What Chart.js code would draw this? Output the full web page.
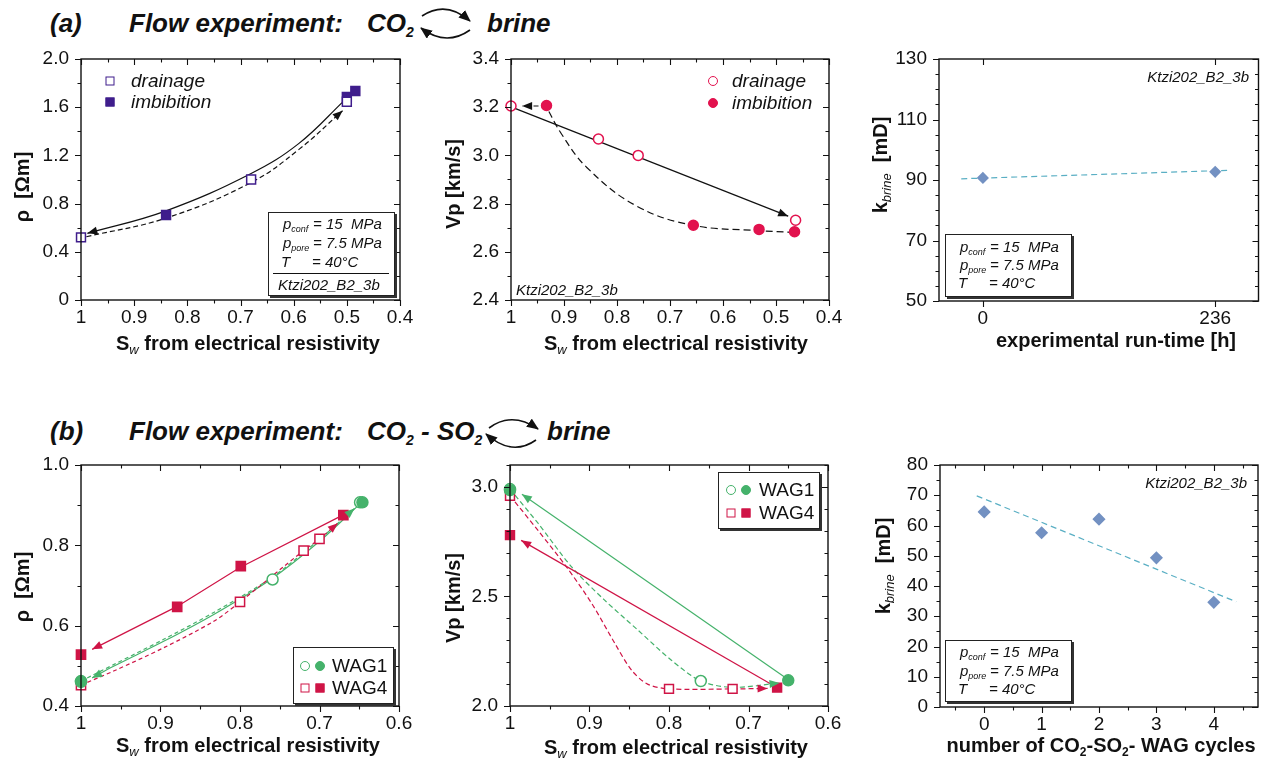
<!DOCTYPE html>
<html>
<head>
<meta charset="utf-8">
<title>Flow experiments</title>
<script src="https://cdn.jsdelivr.net/npm/chart.js@4.4.1/dist/chart.umd.min.js"></script>
<style>
  body { margin: 0; width: 1265px; height: 759px; overflow: hidden; background: #fff;
         font-family: "Liberation Sans", Arial, sans-serif; color: #111; position: relative; }
  canvas { position: absolute; }
  .t { position: absolute; white-space: nowrap; }
  .head { font-size: 26px; line-height: 30px; font-weight: bold; font-style: italic; }
  .head sub { font-size: 14px; vertical-align: -5px; line-height: 0; }
  .ax { font-size: 20px; line-height: 24px; font-weight: bold; transform: translate(-50%, -50%); }
  .ay { font-size: 20px; line-height: 24px; font-weight: bold; transform: translate(-50%, -50%) rotate(-90deg); }
  .ax sub, .ay sub { font-size: 13px; line-height: 0; vertical-align: -4px; font-style: italic; font-weight: normal; }
  .ax sub.n { font-style: normal; font-weight: bold; font-size: 12px; }
  .note { position: absolute; background: #fff; border: 1px solid #222; box-shadow: 2px 2px 0 #333; }
  .note .t { font-size: 15px; line-height: 18px; font-style: italic; }
  .note sub { font-size: 9px; vertical-align: -3px; line-height: 0; }
  .note hr { position: absolute; margin: 0; border: 0; border-top: 1.5px solid #111; }
  .id { font-size: 15px; line-height: 18px; font-style: italic; }
  .lg { font-size: 19px; line-height: 22px; font-style: italic; }
  .note .lg2 { font-size: 19px; line-height: 22px; font-style: normal; }
  .mk { position: absolute; transform: translate(-50%, -50%); box-sizing: border-box; border: 1.5px solid; }
  .sq { width: 9px; height: 9px; }
  .ci { width: 10px; height: 10px; border-radius: 50%; }
  svg { position: absolute; left: 0; top: 0; }
</style>
</head>
<body>

<canvas id="a1"></canvas>
<canvas id="a2"></canvas>
<canvas id="a3"></canvas>
<canvas id="b1"></canvas>
<canvas id="b2"></canvas>
<canvas id="b3"></canvas>

<!-- headers -->
<div class="t head" style="left:50px;top:8px">(a)</div>
<div class="t head" style="left:129px;top:8px">Flow experiment:</div>
<div class="t head" style="left:367px;top:8px">CO<sub>2</sub></div>
<div class="t head" style="left:487px;top:8px">brine</div>

<div class="t head" style="left:50px;top:416px">(b)</div>
<div class="t head" style="left:129px;top:416px">Flow experiment:</div>
<div class="t head" style="left:367px;top:416px">CO<sub>2</sub> - SO<sub>2</sub></div>
<div class="t head" style="left:547px;top:416px">brine</div>

<svg width="1265" height="759">
  <defs>
    <marker id="ah" markerUnits="userSpaceOnUse" markerWidth="12" markerHeight="10" refX="11" refY="5" orient="auto">
      <path d="M0,0 L12,5 L0,10 z" fill="#111"/>
    </marker>
  </defs>
  <g fill="none" stroke="#111" stroke-width="1.6">
    <path d="M422,16 Q446,0 470,21" marker-end="url(#ah)"/>
    <path d="M470,30 Q446,47 421,28" marker-end="url(#ah)"/>
    <path d="M489,428 Q512,411 538,429" marker-end="url(#ah)"/>
    <path d="M536,440 Q512,457 486,434" marker-end="url(#ah)"/>
  </g>
</svg>

<!-- axis titles -->
<div class="t ay" style="left:22px;top:187px">&rho;&nbsp; [&Omega;m]</div>
<div class="t ax" style="left:248px;top:343px">S<sub>w</sub> from electrical resistivity</div>
<div class="t ay" style="left:453px;top:184px">Vp [km/s]</div>
<div class="t ax" style="left:676px;top:343px">S<sub>w</sub> from electrical resistivity</div>
<div class="t ay" style="left:880px;top:165px">k<sub>brine</sub>&nbsp; [mD]</div>
<div class="t ax" style="left:1116px;top:340px">experimental run-time [h]</div>

<div class="t ay" style="left:22px;top:587px">&rho;&nbsp; [&Omega;m]</div>
<div class="t ax" style="left:248px;top:745px">S<sub>w</sub> from electrical resistivity</div>
<div class="t ay" style="left:453px;top:598px">Vp [km/s]</div>
<div class="t ax" style="left:676px;top:747px">S<sub>w</sub> from electrical resistivity</div>
<div class="t ay" style="left:883px;top:566px">k<sub>brine</sub>&nbsp; [mD]</div>
<div class="t ax" style="left:1101px;top:745px">number of CO<sub class="n">2</sub>-SO<sub class="n">2</sub>- WAG cycles</div>

<!-- legends, panel a -->
<span class="mk sq" style="left:110px;top:81px;border-color:#3f1d8c;background:#fff"></span>
<div class="t lg" style="left:131px;top:70px">drainage</div>
<span class="mk sq" style="left:110px;top:102px;border-color:#3f1d8c;background:#3f1d8c"></span>
<div class="t lg" style="left:131px;top:91px">imbibition</div>

<span class="mk ci" style="left:713px;top:81px;border-color:#e2124e;background:#fff"></span>
<div class="t lg" style="left:732px;top:70px">drainage</div>
<span class="mk ci" style="left:713px;top:103px;border-color:#e2124e;background:#e2124e"></span>
<div class="t lg" style="left:732px;top:92px">imbibition</div>

<!-- condition boxes -->
<div class="note" style="left:268px;top:212px;width:125px;height:82px">
  <div class="t" style="left:14px;top:2px">p<sub>conf</sub></div><div class="t" style="left:44px;top:2px">= 15&nbsp; MPa</div>
  <div class="t" style="left:14px;top:21px">p<sub>pore</sub></div><div class="t" style="left:44px;top:21px">= 7.5 MPa</div>
  <div class="t" style="left:12px;top:40px">T</div><div class="t" style="left:43px;top:40px">= 40°C</div>
  <hr style="left:4px;top:60px;width:116px">
  <div class="t" style="left:9px;top:63px">Ktzi202_B2_3b</div>
</div>

<div class="t id" style="left:516px;top:281px">Ktzi202_B2_3b</div>
<div class="t id" style="right:16px;top:68px">Ktzi202_B2_3b</div>

<div class="note" style="left:945px;top:234px;width:125px;height:61px">
  <div class="t" style="left:14px;top:3px">p<sub>conf</sub></div><div class="t" style="left:44px;top:3px">= 15&nbsp; MPa</div>
  <div class="t" style="left:14px;top:21px">p<sub>pore</sub></div><div class="t" style="left:44px;top:21px">= 7.5 MPa</div>
  <div class="t" style="left:12px;top:39px">T</div><div class="t" style="left:43px;top:39px">= 40°C</div>
</div>

<!-- legends, panel b -->
<div class="note" style="left:293px;top:647px;width:99px;height:55px">
  <span class="mk ci" style="left:11px;top:18px;border-color:#45b26b;background:#fff"></span>
  <span class="mk ci" style="left:26px;top:18px;border-color:#45b26b;background:#45b26b"></span>
  <div class="t lg2" style="left:38px;top:7px">WAG1</div>
  <span class="mk sq" style="left:11px;top:40px;border-color:#cf1446;background:#fff"></span>
  <span class="mk sq" style="left:26px;top:40px;border-color:#cf1446;background:#cf1446"></span>
  <div class="t lg2" style="left:38px;top:29px">WAG4</div>
</div>

<div class="note" style="left:718px;top:472px;width:100px;height:55px">
  <span class="mk ci" style="left:12px;top:17px;border-color:#45b26b;background:#fff"></span>
  <span class="mk ci" style="left:27px;top:17px;border-color:#45b26b;background:#45b26b"></span>
  <div class="t lg2" style="left:40px;top:6px">WAG1</div>
  <span class="mk sq" style="left:12px;top:40px;border-color:#cf1446;background:#fff"></span>
  <span class="mk sq" style="left:27px;top:40px;border-color:#cf1446;background:#cf1446"></span>
  <div class="t lg2" style="left:40px;top:29px">WAG4</div>
</div>

<div class="t id" style="right:18px;top:474px">Ktzi202_B2_3b</div>

<div class="note" style="left:945px;top:640px;width:125px;height:60px">
  <div class="t" style="left:14px;top:2px">p<sub>conf</sub></div><div class="t" style="left:44px;top:2px">= 15&nbsp; MPa</div>
  <div class="t" style="left:14px;top:21px">p<sub>pore</sub></div><div class="t" style="left:44px;top:21px">= 7.5 MPa</div>
  <div class="t" style="left:12px;top:39px">T</div><div class="t" style="left:43px;top:39px">= 40°C</div>
</div>

<script>
// ─── (a) CO2 <-> brine ───────────────────────────────────────────────────────
const SW_TICKS_A = ['1', '0.9', '0.8', '0.7', '0.6', '0.5', '0.4'];

const A1_Y_TICKS   = ['0', '0.4', '0.8', '1.2', '1.6', '2.0'];
const A1_DRAIN_SW  = [1.0, 0.68, 0.50];
const A1_DRAIN_RHO = [0.52, 1.00, 1.645];
const A1_IMB_SW    = [0.84, 0.50, 0.484];
const A1_IMB_RHO   = [0.705, 1.685, 1.735];
// guide curves
const A1_IMB_PATH_SW    = [0.505, 0.59, 0.68, 0.84, 0.988];
const A1_IMB_PATH_RHO   = [1.655, 1.30, 1.05, 0.74, 0.553];
const A1_DRAIN_PATH_SW  = [0.99, 0.84, 0.68, 0.59, 0.508];
const A1_DRAIN_PATH_RHO = [0.525, 0.68, 0.975, 1.25, 1.571];

const A2_Y_TICKS  = ['2.4', '2.6', '2.8', '3.0', '3.2', '3.4'];
const A2_DRAIN_SW = [1.0, 0.835, 0.76, 0.463];
const A2_DRAIN_VP = [3.205, 3.068, 3.0, 2.731];
const A2_IMB_SW   = [0.933, 0.656, 0.532, 0.465];
const A2_IMB_VP   = [3.207, 2.71, 2.693, 2.683];
const A2_DRAIN_PATH_SW = [0.995, 0.477];
const A2_DRAIN_PATH_VP = [3.197, 2.748];
const A2_IMB_PATH_SW   = [0.465, 0.532, 0.656, 0.763, 0.857, 0.905, 0.933];
const A2_IMB_PATH_VP   = [2.68, 2.688, 2.71, 2.79, 2.95, 3.09, 3.2];
const A2_IMB_BACK_SW   = [0.933, 0.979];
const A2_IMB_BACK_VP   = [3.205, 3.205];

const A3_X_TICKS = ['0', '236'];
const A3_Y_TICKS = ['50', '70', '90', '110', '130'];
const A3_TIME    = [0, 236];
const A3_K       = [90.7, 92.7];
const A3_TREND_T = [-22, 250];
const A3_TREND_K = [90.4, 93.2];

// ─── (b) CO2-SO2 <-> brine ───────────────────────────────────────────────────
const SW_TICKS_B = ['1', '0.9', '0.8', '0.7', '0.6'];

const B1_Y_TICKS = ['0.4', '0.6', '0.8', '1.0'];
const B1_WAG1_OPEN_SW  = [1.0, 0.759, 0.649];
const B1_WAG1_OPEN_RHO = [0.46, 0.715, 0.907];
const B1_WAG1_FILL_SW  = [1.0, 0.646];
const B1_WAG1_FILL_RHO = [0.462, 0.907];
const B1_WAG4_OPEN_SW  = [1.0, 0.80, 0.72, 0.70];
const B1_WAG4_OPEN_RHO = [0.452, 0.659, 0.787, 0.816];
const B1_WAG4_FILL_SW  = [1.0, 0.879, 0.799, 0.670];
const B1_WAG4_FILL_RHO = [0.528, 0.647, 0.748, 0.875];
const B1_WAG4_IMB_SW   = [0.672, 0.80, 0.879, 0.986];
const B1_WAG4_IMB_RHO  = [0.874, 0.745, 0.648, 0.541];
const B1_WAG4_DRN_SW   = [1.0, 0.959, 0.896, 0.833, 0.80, 0.72, 0.70, 0.677];
const B1_WAG4_DRN_RHO  = [0.452, 0.487, 0.545, 0.611, 0.659, 0.787, 0.816, 0.855];
const B1_WAG1_IMB_SW   = [0.648, 0.70, 0.76, 0.833, 0.896, 0.959, 0.986];
const B1_WAG1_IMB_RHO  = [0.905, 0.81, 0.717, 0.628, 0.561, 0.499, 0.47];
const B1_WAG1_DRN_SW   = [1.0, 0.959, 0.896, 0.833, 0.76, 0.70, 0.656];
const B1_WAG1_DRN_RHO  = [0.462, 0.503, 0.566, 0.633, 0.72, 0.815, 0.892];

const B2_Y_TICKS = ['2.0', '2.5', '3.0'];
const B2_WAG1_OPEN_SW = [1.0, 0.76];
const B2_WAG1_OPEN_VP = [2.99, 2.114];
const B2_WAG1_FILL_SW = [1.0, 0.65];
const B2_WAG1_FILL_VP = [2.985, 2.117];
const B2_WAG4_OPEN_SW = [1.0, 0.80, 0.72];
const B2_WAG4_OPEN_VP = [2.959, 2.078, 2.078];
const B2_WAG4_FILL_SW = [1.0, 0.664];
const B2_WAG4_FILL_VP = [2.78, 2.084];
const B2_WAG1_IMB_SW  = [0.652, 0.985];
const B2_WAG1_IMB_VP  = [2.125, 2.967];
const B2_WAG4_IMB_SW  = [0.667, 0.986];
const B2_WAG4_IMB_VP  = [2.09, 2.756];
const B2_WAG1_DRN_SW  = [1.0, 0.9645, 0.9225, 0.881, 0.839, 0.797, 0.76, 0.72, 0.661];
const B2_WAG1_DRN_VP  = [2.99, 2.833, 2.635, 2.483, 2.346, 2.209, 2.114, 2.085, 2.105];
const B2_WAG4_DRN_SW  = [1.0, 0.9645, 0.929, 0.897, 0.868, 0.847, 0.827, 0.80, 0.72, 0.676];
const B2_WAG4_DRN_VP  = [2.96, 2.80, 2.635, 2.467, 2.285, 2.163, 2.10, 2.078, 2.078, 2.08];

const B3_X_TICKS = ['0', '1', '2', '3', '4'];
const B3_Y_TICKS = ['0', '10', '20', '30', '40', '50', '60', '70', '80'];
const B3_CYCLES  = [0, 1, 2, 3, 4];
const B3_K       = [64.5, 57.6, 62.1, 49.3, 34.6];
const B3_TREND_N = [-0.13, 4.39];
const B3_TREND_K = [69.8, 34.8];

// ─── styling ─────────────────────────────────────────────────────────────────
const FONT    = '"Liberation Sans", Arial, sans-serif';
const PURPLE  = '#3f1d8c';
const CRIMSON = '#e2124e';
const GREEN   = '#45b26b';
const RED     = '#cf1446';
const DIAMOND = '#7391c2';
const TREND   = '#5aafc4';
const INK     = '#111';

const pts = (xs, ys) => xs.map((x, i) => ({ x, y: ys[i] }));

function marks(xs, ys, shape, color, filled, r) {
  return {
    data: pts(xs, ys), showLine: false, clip: false, order: 1,
    pointStyle: shape, pointRadius: r,
    pointBackgroundColor: filled ? color : '#fff',
    pointBorderColor: color, pointBorderWidth: 1.5
  };
}

function path(xs, ys, color, dash, arrow, tension = 0.4) {
  return {
    data: pts(xs, ys), showLine: true, clip: false, order: 2, fill: false,
    borderColor: color, borderWidth: 1.2, borderDash: dash || [],
    pointRadius: 0, tension, arrow
  };
}

// frame + Origin-style ticks (out on bottom/left, in on top/right)
function frameTicks(ax) {
  return {
    id: 'frameTicks',
    afterDraw(chart) {
      const { ctx, chartArea: a, scales: { x, y } } = chart;
      ctx.save();
      ctx.strokeStyle = INK;
      ctx.lineWidth = 1.4;
      ctx.setLineDash([]);
      ctx.strokeRect(a.left, a.top, a.right - a.left, a.bottom - a.top);
      ctx.lineWidth = 1.1;
      const each = (cfg, fn) => {
        const major = cfg.labels.map(parseFloat);
        major.forEach(v => fn(v, 6));
        if (!cfg.minor) return;
        const lo = Math.min(cfg.min, cfg.max), hi = Math.max(cfg.min, cfg.max);
        for (let v = Math.ceil(lo / cfg.minor - 1e-6) * cfg.minor; v <= hi + 1e-9; v += cfg.minor) {
          if (!major.some(m => Math.abs(m - v) < 1e-6)) fn(v, 3.5);
        }
      };
      ctx.beginPath();
      each(ax.x, (v, len) => {
        const px = Math.round(x.getPixelForValue(v)) + 0.5;
        ctx.moveTo(px, a.bottom); ctx.lineTo(px, a.bottom + len);
        ctx.moveTo(px, a.top);    ctx.lineTo(px, a.top + len);
      });
      each(ax.y, (v, len) => {
        const py = Math.round(y.getPixelForValue(v)) + 0.5;
        ctx.moveTo(a.left, py);  ctx.lineTo(a.left - len, py);
        ctx.moveTo(a.right, py); ctx.lineTo(a.right - len, py);
      });
      ctx.stroke();
      ctx.restore();
    }
  };
}

const arrowHeads = {
  id: 'arrowHeads',
  afterDatasetsDraw(chart) {
    const ctx = chart.ctx;
    chart.data.datasets.forEach((ds, i) => {
      if (!ds.arrow) return;
      const el = chart.getDatasetMeta(i).data;
      const p = el[el.length - 1], q = el[el.length - 2];
      let cx = p.cp1x, cy = p.cp1y;
      if (cx === undefined || Math.hypot(p.x - cx, p.y - cy) < 2) { cx = q.x; cy = q.y; }
      const ang = Math.atan2(p.y - cy, p.x - cx);
      const L = 10, W = 4;
      ctx.save();
      ctx.fillStyle = ds.borderColor;
      ctx.translate(p.x, p.y);
      ctx.rotate(ang);
      ctx.beginPath();
      ctx.moveTo(0, 0); ctx.lineTo(-L, -W); ctx.lineTo(-L, W);
      ctx.closePath();
      ctx.fill();
      ctx.restore();
    });
  }
};

function scaleOpts(cfg, dir) {
  return {
    type: 'linear', min: cfg.min, max: cfg.max, reverse: !!cfg.reverse,
    grid: { display: false, drawTicks: false }, border: { display: false },
    afterBuildTicks: s => { s.ticks = cfg.labels.map(t => ({ value: parseFloat(t) })); },
    afterFit: s => {
      if (dir === 'x') s.height = 40; else s.width = 60;
      s.paddingTop = s.paddingBottom = s.paddingLeft = s.paddingRight = 0;
    },
    ticks: {
      autoSkip: false, maxRotation: 0, color: INK,
      padding: dir === 'x' ? 6 : 12,
      font: { family: FONT, size: 19 },
      callback: v => cfg.labels.find(t => Math.abs(parseFloat(t) - v) < 1e-9)
    }
  };
}

// box = plot area in page pixels
function panel(id, box, ax, datasets) {
  const el = document.getElementById(id);
  const rp = box.rp ?? 20;
  el.width  = box.r - box.l + 60 + rp;
  el.height = box.b - box.t + 12 + 40;
  el.style.left = (box.l - 60) + 'px';
  el.style.top  = (box.t - 12) + 'px';
  new Chart(el, {
    type: 'scatter',
    data: { datasets },
    options: {
      responsive: false, animation: false, events: [],
      layout: { padding: { top: 12, right: rp, left: 0, bottom: 0 } },
      plugins: { legend: { display: false }, tooltip: { enabled: false } },
      scales: { x: scaleOpts(ax.x, 'x'), y: scaleOpts(ax.y, 'y') }
    },
    plugins: [frameTicks(ax), arrowHeads]
  });
}

window.addEventListener('DOMContentLoaded', () => {
  const swA = { labels: SW_TICKS_A, min: 0.4, max: 1, reverse: true, minor: 0.05 };
  const swB = { labels: SW_TICKS_B, min: 0.6, max: 1, reverse: true, minor: 0.05 };

  panel('a1', { l: 81, t: 59, r: 400, b: 300 },
    { x: swA, y: { labels: A1_Y_TICKS, min: 0, max: 2, minor: 0.2 } }, [
      marks(A1_DRAIN_SW, A1_DRAIN_RHO, 'rect', PURPLE, false, 6.3),
      marks(A1_IMB_SW, A1_IMB_RHO, 'rect', PURPLE, true, 6.3),
      path(A1_IMB_PATH_SW, A1_IMB_PATH_RHO, INK, null, true),
      path(A1_DRAIN_PATH_SW, A1_DRAIN_PATH_RHO, INK, [5, 3], true)
    ]);

  panel('a2', { l: 511, t: 59, r: 829, b: 300 },
    { x: swA, y: { labels: A2_Y_TICKS, min: 2.4, max: 3.4, minor: 0.1 } }, [
      marks(A2_IMB_SW, A2_IMB_VP, 'circle', CRIMSON, true, 5),
      marks(A2_DRAIN_SW, A2_DRAIN_VP, 'circle', CRIMSON, false, 5),
      path(A2_DRAIN_PATH_SW, A2_DRAIN_PATH_VP, INK, null, true, 0),
      path(A2_IMB_PATH_SW, A2_IMB_PATH_VP, INK, [7, 4], false),
      path(A2_IMB_BACK_SW, A2_IMB_BACK_VP, INK, [5, 3], true, 0)
    ]);

  panel('a3', { l: 939, t: 59, r: 1259, b: 301, rp: 6 },
    { x: { labels: A3_X_TICKS, min: -44.6, max: 280, minor: null },
      y: { labels: A3_Y_TICKS, min: 50, max: 130, minor: 5 } }, [
      marks(A3_TIME, A3_K, 'rectRot', DIAMOND, true, 5),
      path(A3_TREND_T, A3_TREND_K, TREND, [6, 4], false, 0)
    ]);

  panel('b1', { l: 81, t: 465, r: 399, b: 706 },
    { x: swB, y: { labels: B1_Y_TICKS, min: 0.4, max: 1.0, minor: 0.1 } }, [
      marks(B1_WAG1_FILL_SW, B1_WAG1_FILL_RHO, 'circle', GREEN, true, 5.5),
      marks(B1_WAG1_OPEN_SW, B1_WAG1_OPEN_RHO, 'circle', GREEN, false, 5.5),
      marks(B1_WAG4_FILL_SW, B1_WAG4_FILL_RHO, 'rect', RED, true, 6.5),
      marks(B1_WAG4_OPEN_SW, B1_WAG4_OPEN_RHO, 'rect', RED, false, 6.5),
      path(B1_WAG4_IMB_SW, B1_WAG4_IMB_RHO, RED, null, true, 0),
      path(B1_WAG4_DRN_SW, B1_WAG4_DRN_RHO, RED, [4, 3], true, 0.3),
      path(B1_WAG1_IMB_SW, B1_WAG1_IMB_RHO, GREEN, null, true, 0.3),
      path(B1_WAG1_DRN_SW, B1_WAG1_DRN_RHO, GREEN, [4, 3], true, 0.3)
    ]);

  panel('b2', { l: 510, t: 465, r: 828, b: 706 },
    { x: swB, y: { labels: B2_Y_TICKS, min: 2.0, max: 3.1, minor: 0.1 } }, [
      marks(B2_WAG1_FILL_SW, B2_WAG1_FILL_VP, 'circle', GREEN, true, 5.5),
      marks(B2_WAG1_OPEN_SW, B2_WAG1_OPEN_VP, 'circle', GREEN, false, 5.5),
      marks(B2_WAG4_FILL_SW, B2_WAG4_FILL_VP, 'rect', RED, true, 6.3),
      marks(B2_WAG4_OPEN_SW, B2_WAG4_OPEN_VP, 'rect', RED, false, 6.3),
      path(B2_WAG1_IMB_SW, B2_WAG1_IMB_VP, GREEN, null, true, 0),
      path(B2_WAG4_IMB_SW, B2_WAG4_IMB_VP, RED, null, true, 0),
      path(B2_WAG1_DRN_SW, B2_WAG1_DRN_VP, GREEN, [5, 3], true, 0.3),
      path(B2_WAG4_DRN_SW, B2_WAG4_DRN_VP, RED, [5, 3], true, 0.3)
    ]);

  panel('b3', { l: 940, t: 465, r: 1259, b: 707, rp: 6 },
    { x: { labels: B3_X_TICKS, min: -0.77, max: 4.77, minor: 0.5 },
      y: { labels: B3_Y_TICKS, min: 0, max: 80, minor: 5 } }, [
      marks(B3_CYCLES, B3_K, 'rectRot', DIAMOND, true, 5.5),
      path(B3_TREND_N, B3_TREND_K, TREND, [6, 4], false, 0)
    ]);
});
</script>
</body>
</html>
